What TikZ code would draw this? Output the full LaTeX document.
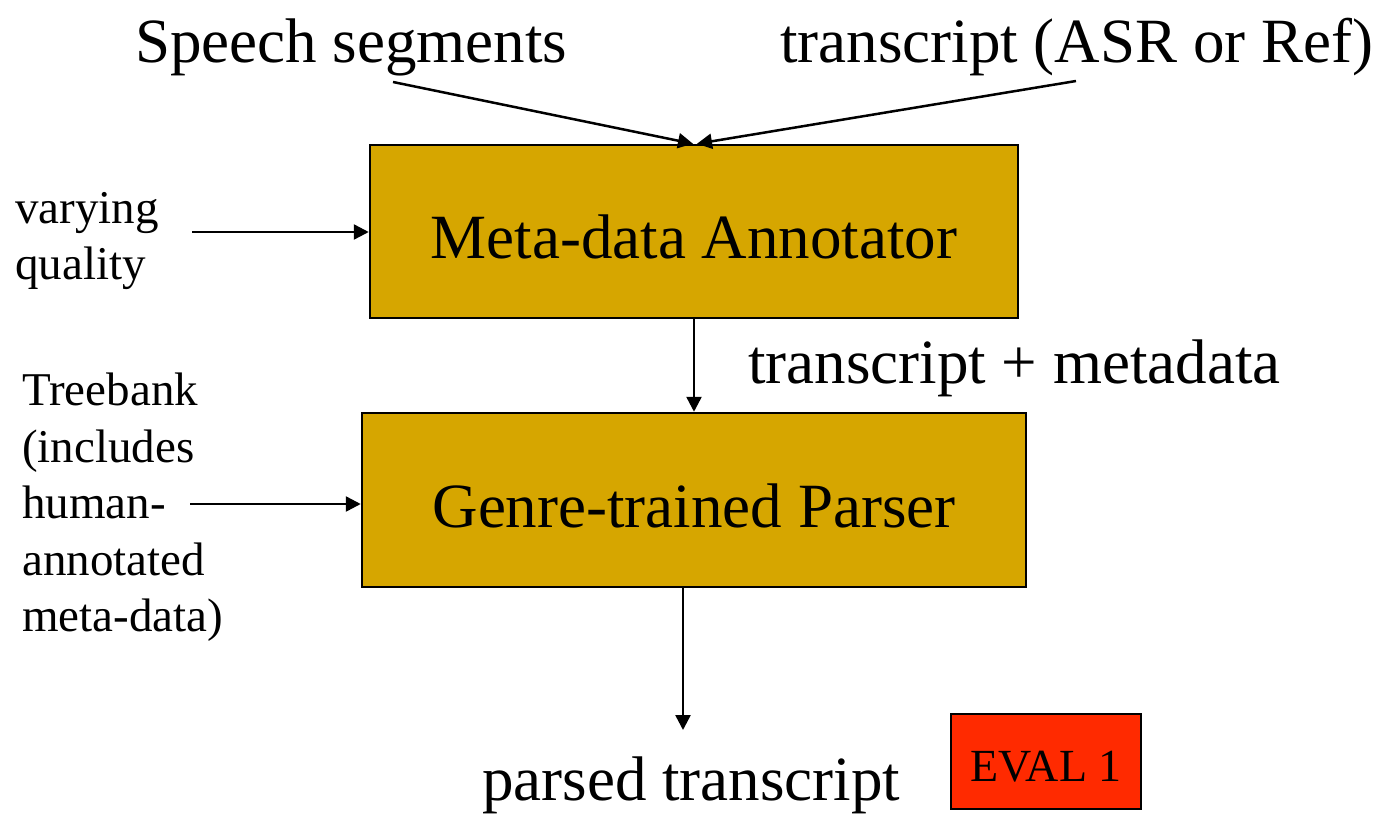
\documentclass[tikz,border=0pt]{standalone}
\usepackage{fontspec}
\setmainfont{Liberation Serif}
\usetikzlibrary{arrows.meta}
\definecolor{gold}{RGB}{214,166,0}
\definecolor{evalred}{RGB}{255,42,0}
\tikzset{
  bigfont/.style={font=\fontsize{63}{75.6}\selectfont},
  smallfont/.style={font=\fontsize{47}{56.5}\selectfont},
  procbox/.style={draw=black, line width=2.5pt, fill=gold, bigfont, inner sep=0pt, text height=53pt, text depth=0pt},
  lbl/.style={inner sep=0pt},
  arr/.style={draw=black, line width=2.5pt, -{Triangle[length=15pt,width=15pt]}},
}
\begin{document}
\begin{tikzpicture}[x=1pt,y=-1pt]
\useasboundingbox (0,0) rectangle (1378,814);
\node[procbox, minimum width=648pt, minimum height=173pt] (mda) at (694,231.5) {Meta-data Annotator};
\node[procbox, minimum width=664pt, minimum height=174pt, text height=54pt] (gp) at (694,500) {Genre-trained Parser};
\node[draw=black, line width=2.5pt, fill=evalred, inner sep=0pt, minimum width=190pt, minimum height=95pt, font=\fontsize{46}{55}\selectfont, text height=39pt, text depth=0pt] (eval) at (1046,761.5) {EVAL 1};

\node[lbl, bigfont, anchor=base west] (speech) at (135,62) {Speech segments};
\node[lbl, bigfont, anchor=base west] (trans) at (780,62) {transcript (ASR or Ref)};
\node[lbl, bigfont, anchor=base west] (tm) at (748,383) {transcript + metadata};
\node[lbl, bigfont, anchor=base west] (parsed) at (482,800) {parsed transcript};
\node[lbl, smallfont, anchor=north west, align=left] (vq) at (15,192) {varying\\quality};
\node[lbl, smallfont, anchor=north west, align=left] (tb) at (22,373) {Treebank\\(includes\\human-\\annotated\\meta-data)};

\coordinate (s1) at (393,82);
\coordinate (t1) at (1076,81);
\coordinate (v1) at (192,232);
\coordinate (b1) at (190,504);
\coordinate (p1) at (683,730);

\draw[arr] (s1) -- ([xshift=-1pt]mda.north);
\draw[arr] (t1) -- ([xshift=3pt]mda.north);
\draw[arr] (v1) -- (v1 -| mda.west);
\draw[arr] (mda.south) -- (gp.north);
\draw[arr] (b1) -- (b1 -| gp.west);
\draw[arr] ([xshift=-11pt]gp.south) -- (p1);
\end{tikzpicture}
\end{document}
